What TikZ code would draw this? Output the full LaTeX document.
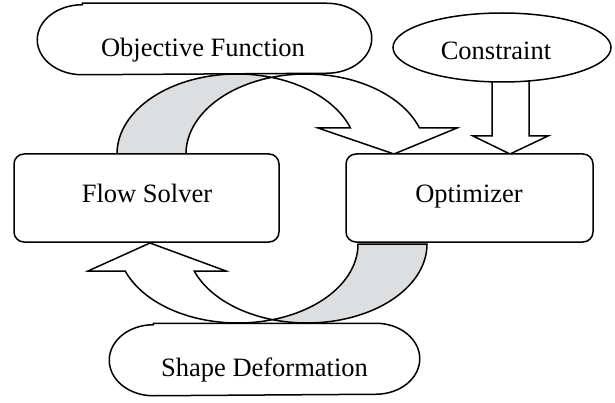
\documentclass[tikz,border=0pt]{standalone}
\usepackage{fontspec}
\setmainfont{Liberation Serif}
\usetikzlibrary{shapes.geometric}
\definecolor{band}{RGB}{221,222,224}
\begin{document}
\begin{tikzpicture}[x=1pt,y=-1pt,line width=1.5pt,
  lbl/.style={font=\fontsize{26.5}{30}\selectfont, anchor=base, inner sep=0pt},
  boxnode/.style={draw, fill=white, rounded corners=10pt, inner sep=0pt, minimum height=88pt},
  capnode/.style={inner sep=0pt, minimum height=70pt},
  ribbon/.style={draw, line join=miter},
  hollow/.style={draw, fill=white, line join=miter}]
\useasboundingbox (0,0) rectangle (615,403);

% top ribbon arrow (Flow Solver -> Optimizer)
\path[ribbon, fill=band]
  plot[domain=180:73.3, samples=60] ({237+120*cos(\x)},{154-80*sin(\x)})
  -- plot[domain=106.7:180, samples=60] ({306+120*cos(\x)},{154-80*sin(\x)}) -- cycle;
\path[hollow]
  plot[domain=106.7:19, samples=60] ({306+120*cos(\x)},{154-80*sin(\x)})
  -- (457,128) -- (394,154) -- (318,128)
  -- plot[domain=19:73.3, samples=60] ({237+120*cos(\x)},{154-80*sin(\x)}) -- cycle;

% bottom ribbon arrow (Optimizer -> Flow Solver)
\path[ribbon, fill=band]
  plot[domain=0:106.7, samples=60] ({307+120*cos(\x)},{244+79*sin(\x)})
  -- plot[domain=73.3:0, samples=60] ({238+120*cos(\x)},{244+79*sin(\x)}) -- cycle;
\path[hollow]
  plot[domain=73.3:160, samples=60] ({238+120*cos(\x)},{244+79*sin(\x)})
  -- (88,271) -- (150,243) -- (226,271)
  -- plot[domain=160:106.7, samples=60] ({307+120*cos(\x)},{244+79*sin(\x)}) -- cycle;

% constraint arrow
\path[hollow] (492,70) -- (492,136) -- (473,136) -- (510,154) -- (548,136) -- (529,136) -- (529,70);

% Objective Function capsule
\node[capnode, minimum width=333pt] (obj) at (204.5,39) {};
\draw[fill=white] ([xshift=45pt]obj.north west) -- ([xshift=-45pt]obj.north east)
  arc[start angle=90, end angle=-90, x radius=45pt, y radius=35pt]
  -- ([xshift=45pt]obj.south west)
  arc[start angle=270, end angle=90, x radius=45pt, y radius=35pt] -- cycle;

% Shape Deformation capsule
\node[capnode, minimum width=309pt, minimum height=71pt] (sd) at (264.5,359.5) {};
\draw[fill=white] ([xshift=44pt]sd.north west) -- ([xshift=-44pt]sd.north east)
  arc[start angle=90, end angle=-90, x radius=44pt, y radius=35.5pt]
  -- ([xshift=44pt]sd.south west)
  arc[start angle=270, end angle=90, x radius=44pt, y radius=35.5pt] -- cycle;

% Constraint ellipse
\node[draw, fill=white, ellipse, inner sep=0pt, minimum width=218pt, minimum height=69pt] (con) at (502,47.5) {};

% boxes
\node[boxnode, minimum width=265pt] (fs) at (146.5,198) {};
\node[boxnode, minimum width=247pt] (opt) at (469.5,198) {};

% labels
\node[lbl] (tobj) at (203,57) {Objective Function};
\node[lbl] (tcon) at (496,60) {Constraint};
\node[lbl] (tfs) at (147,203) {Flow Solver};
\node[lbl] (topt) at (469,203) {Optimizer};
\node[lbl] (tsd) at (264.5,376) {Shape Deformation};
\end{tikzpicture}
\end{document}
